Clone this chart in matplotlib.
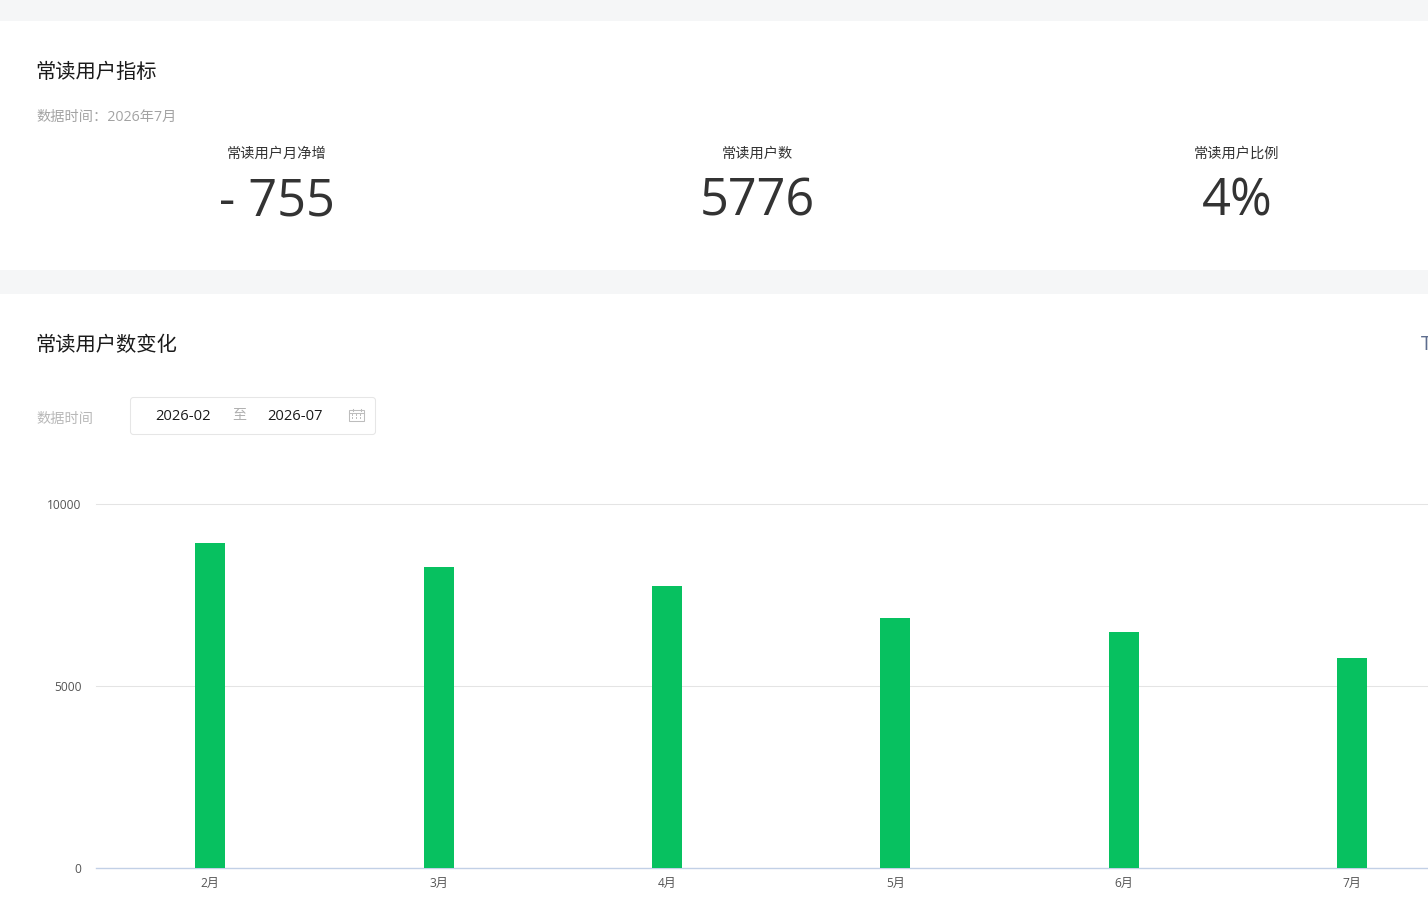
import matplotlib
matplotlib.use("Agg")
import matplotlib.pyplot as plt
from matplotlib.patches import Rectangle, FancyBboxPatch

W, H = 1428, 923
MIXED = ['Open Sans', 'Noto Sans CJK SC', 'DejaVu Sans']
plt.rcParams['font.family'] = MIXED

months = ['2月', '3月', '4月', '5月', '6月', '7月']
readers = [8941, 8281, 7758, 6878, 6490, 5776]
y_ticks = [0, 5000, 10000]
kpi_labels = ['常读用户月净增', '常读用户数', '常读用户比例']
kpi_values = ['- 755', '5776', '4%']

fig = plt.figure(figsize=(W / 100, H / 100), dpi=100, facecolor='#f5f6f7')

bg = fig.add_axes([0, 0, 1, 1], zorder=0)
bg.set_xlim(0, W)
bg.set_ylim(H, 0)
bg.axis('off')
bg.add_patch(Rectangle((0, 21), W, 249, fc='white', ec='none'))
bg.add_patch(Rectangle((0, 294), W, H - 294, fc='white', ec='none'))

def px(x, y, s, size, color, ha='left', va='center', **kw):
    bg.text(x, y, s, fontsize=size * 0.72, color=color, ha=ha, va=va, **kw)

px(35.5, 73, '常读用户指标', 20.3, '#1a1a1a')
px(36, 117.5, '数据时间\uff1a2026年7月', 14.2, '#a3a3a3')
for cx, lab, val in zip([277, 757, 1237], kpi_labels, kpi_values):
    px(cx, 154.5, lab, 14.2, '#333333', ha='center')
    px(cx, 195.5, val, 50.5, '#333333', ha='center', family='Open Sans', va='center_baseline')

px(35.5, 346, '常读用户数变化', 20.3, '#1a1a1a')
px(1421, 345.5, 'T', 20, '#5d6d8e')
px(36, 419.5, '数据时间', 14.2, '#b8b8b8')
bg.add_patch(FancyBboxPatch((130.5, 397.5), 245, 37, boxstyle='round,pad=0,rounding_size=3',
                            fc='white', ec='#e6e6e6', lw=0.75))
px(155.5, 416.5, '2026-02', 14.8, '#1a1a1a')
px(239.5, 416, '至', 14, '#b0b0b0', ha='center')
px(267.5, 416.5, '2026-07', 14.8, '#1a1a1a')

ICON = '#bdbdbd'
bg.add_patch(Rectangle((349, 410), 15, 11, fc='none', ec=ICON, lw=0.75))
bg.plot([349, 364], [412.5, 412.5], color=ICON, lw=0.75)
bg.plot([352.5, 352.5], [408.5, 411], color=ICON, lw=0.75)
bg.plot([360.5, 360.5], [408.5, 411], color=ICON, lw=0.75)
for yy in (415, 418):
    for xx in (352.5, 356.5, 360.5):
        bg.add_patch(Rectangle((xx - 0.6, yy - 0.6), 1.2, 1.2, fc=ICON, ec='none'))

left, right, y0, y1 = 96, W, 868, 504
ax = fig.add_axes([left / W, 1 - y0 / H, (right - left) / W, (y0 - y1) / H], zorder=1)
ax.patch.set_alpha(0)
step = 228.4
ax.set_xlim(-0.5, -0.5 + (right - left) / step)
ax.set_ylim(0, 10000)
ax.bar(range(len(months)), readers, width=30 / step, color='#07c160', zorder=3)
ax.set_xticks(range(len(months)), months)
ax.set_yticks(y_ticks)
ax.grid(axis='y', color='#e4e4e4', lw=0.75, zorder=0)
for line in ax.get_ygridlines():
    line.set_clip_on(False)
ax.get_ygridlines()[0].set_visible(False)
for s in ('top', 'right', 'left'):
    ax.spines[s].set_visible(False)
ax.spines['bottom'].set_color('#c2d0e6')
ax.spines['bottom'].set_linewidth(1.0)
ax.tick_params(axis='both', length=0, labelsize=12 * 0.72, labelcolor='#555555')
ax.tick_params(axis='x', pad=6.5)
ax.tick_params(axis='y', pad=10.5)

fig.savefig('out.png', dpi=100, facecolor=fig.get_facecolor())
